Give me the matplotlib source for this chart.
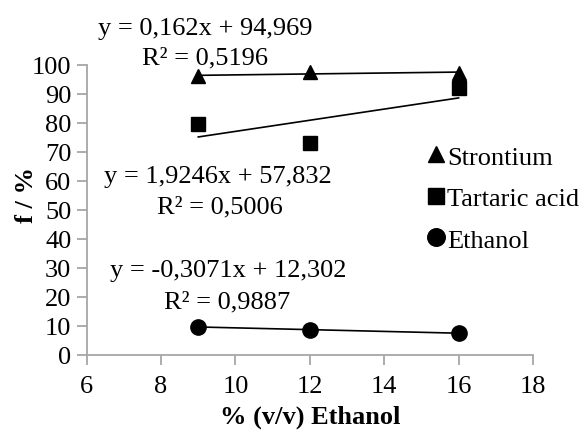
import matplotlib
matplotlib.use("Agg")
import matplotlib.pyplot as plt
import numpy as np

plt.rcParams['font.family'] = ['Liberation Serif', 'DejaVu Serif']

x_vals = [9, 12, 16]
strontium = [96.07, 97.54, 97.29]
tartaric = [79.57, 73.2, 91.94]
ethanol = [9.62, 8.48, 7.45]

x_ticks = [6, 8, 10, 12, 14, 16, 18]
y_ticks = [0, 10, 20, 30, 40, 50, 60, 70, 80, 90, 100]

eq_strontium = ("y = 0,162x + 94,969", "R² = 0,5196")
eq_tartaric = ("y = 1,9246x + 57,832", "R² = 0,5006")
eq_ethanol = ("y = -0,3071x + 12,302", "R² = 0,9887")

W, H = 582, 435
fig = plt.figure(figsize=(W / 100, H / 100), dpi=100)
ax = fig.add_axes([86.7 / W, 1 - 355.6 / H, (533 - 86.7) / W, (355.6 - 66) / H])

fs = 19
axcol = '#a6a6a6'

series = [
    (strontium, '^', 'Strontium', 10.5),
    (tartaric, 's', 'Tartaric acid', 10.5),
    (ethanol, 'o', 'Ethanol', 11),
]
handles = []
for ys, mk, lab, ms in series:
    xa = np.array(x_vals, float)
    ya = np.array(ys, float)
    m, b = np.polyfit(xa, ya, 1)
    xx = np.array([xa.min(), xa.max()])
    ax.plot(xx, m * xx + b, color='black', lw=1.2, zorder=2)
    h, = ax.plot(xa, ya, linestyle='none', marker=mk, color='black', ms=ms, label=lab, zorder=3)
    handles.append(h)

ax.set_xlim(6, 18)
ax.set_ylim(0, 100)
ax.set_xticks(x_ticks)
ax.set_yticks(y_ticks)
for s in ['top', 'right']:
    ax.spines[s].set_visible(False)
for s in ['left', 'bottom']:
    ax.spines[s].set_color(axcol)
    ax.spines[s].set_linewidth(1.3)
ax.tick_params(direction='out', length=7, width=1.3, color=axcol, labelsize=fs, pad=4)
ax.tick_params(axis='x', pad=8)

ax.set_xlabel('% (v/v) Ethanol', fontsize=fs, fontweight='bold', labelpad=5)
ax.set_ylabel('f / %', fontsize=fs, fontweight='bold', labelpad=2)
ax.yaxis.set_label_coords(-0.11, 0.555)

def put(txt, cx, cy):
    fig.text(cx / W, 1 - cy / H, txt, ha='center', va='center', fontsize=fs)

put(eq_strontium[0], 205, 29)
put(eq_strontium[1], 205, 58)
put(eq_tartaric[0], 218, 177)
put(eq_tartaric[1], 220, 207)
put(eq_ethanol[0], 228, 271)
put(eq_ethanol[1], 227, 302)

leg = fig.legend(handles=handles, loc='upper left', bbox_to_anchor=(414 / W, 1 - 133 / H),
                 frameon=False, fontsize=fs, handlelength=0.65, handletextpad=0.1,
                 labelspacing=0.68, borderpad=0, markerscale=1.15)

fig.savefig('out.png', dpi=100)
